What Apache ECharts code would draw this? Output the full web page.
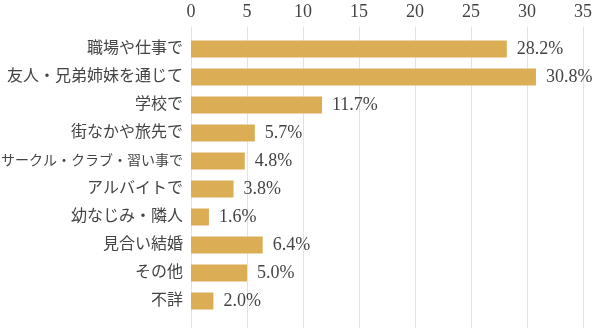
<!DOCTYPE html>
<html>
<head>
<meta charset="utf-8">
<script src="https://cdn.jsdelivr.net/npm/echarts@6/dist/echarts.min.js"></script>
<style>
  html, body { margin: 0; padding: 0; background: #fff; }
  #chart { width: 600px; height: 328px; }
</style>
</head>
<body>
<div id="chart"></div>
<script>
// Where couples met (percent)
const categories = [
  '職場や仕事で',
  '友人・兄弟姉妹を通じて',
  '学校で',
  '街なかや旅先で',
  'サークル・クラブ・習い事で',
  'アルバイトで',
  '幼なじみ・隣人',
  '見合い結婚',
  'その他',
  '不詳'
];
const values = [28.2, 30.8, 11.7, 5.7, 4.8, 3.8, 1.6, 6.4, 5.0, 2.0];
const axisMax = 35;
const axisStep = 5;

const textColor = '#444444';
const barColor = '#DBAE55';
const fontFamily = '"Liberation Serif", "Noto Sans CJK JP", serif';

const chart = echarts.init(document.getElementById('chart'), null, { renderer: 'canvas' });

chart.setOption({
  animation: false,
  grid: [
    // background grid: carries the scale labels and vertical grid lines
    { left: 191, right: 17, top: 27, bottom: 0, containLabel: false, outerBoundsMode: 'none' },
    // bars
    { left: 191, right: 17, top: 35, bottom: 13, containLabel: false, outerBoundsMode: 'none' }
  ],
  xAxis: [
    {
      gridIndex: 0,
      type: 'value',
      position: 'top',
      min: 0,
      max: axisMax,
      interval: axisStep,
      axisLine: { show: false },
      axisTick: { show: false },
      axisLabel: {
        color: textColor,
        fontSize: 18,
        fontFamily: fontFamily,
        margin: 6
      },
      splitLine: { show: true, lineStyle: { color: '#e2e2e2', width: 1 } }
    },
    {
      gridIndex: 1,
      type: 'value',
      min: 0,
      max: axisMax,
      show: false
    }
  ],
  yAxis: [
    {
      gridIndex: 0,
      type: 'value',
      show: false,
      min: 0,
      max: 1
    },
    {
      gridIndex: 1,
      type: 'category',
      data: categories,
      inverse: true,
      axisLine: { show: false },
      axisTick: { show: false },
      axisLabel: {
        color: textColor,
        fontSize: 16,
        fontFamily: fontFamily,
        margin: 8,
        overflow: 'none',
        // very long names are set a little tighter so they stay on the page
        formatter: v => v.length > 12 ? '{tight|' + v + '}' : v,
        rich: {
          tight: { fontSize: 14, fontFamily: fontFamily, color: textColor }
        }
      }
    }
  ],
  series: [
    {
      type: 'bar',
      xAxisIndex: 1,
      yAxisIndex: 1,
      data: values,
      barWidth: 17,
      itemStyle: { color: barColor },
      label: {
        show: true,
        position: 'right',
        distance: 10,
        color: textColor,
        fontSize: 18,
        fontFamily: fontFamily,
        formatter: p => p.value.toFixed(1) + '%'
      }
    }
  ]
});
</script>
</body>
</html>
